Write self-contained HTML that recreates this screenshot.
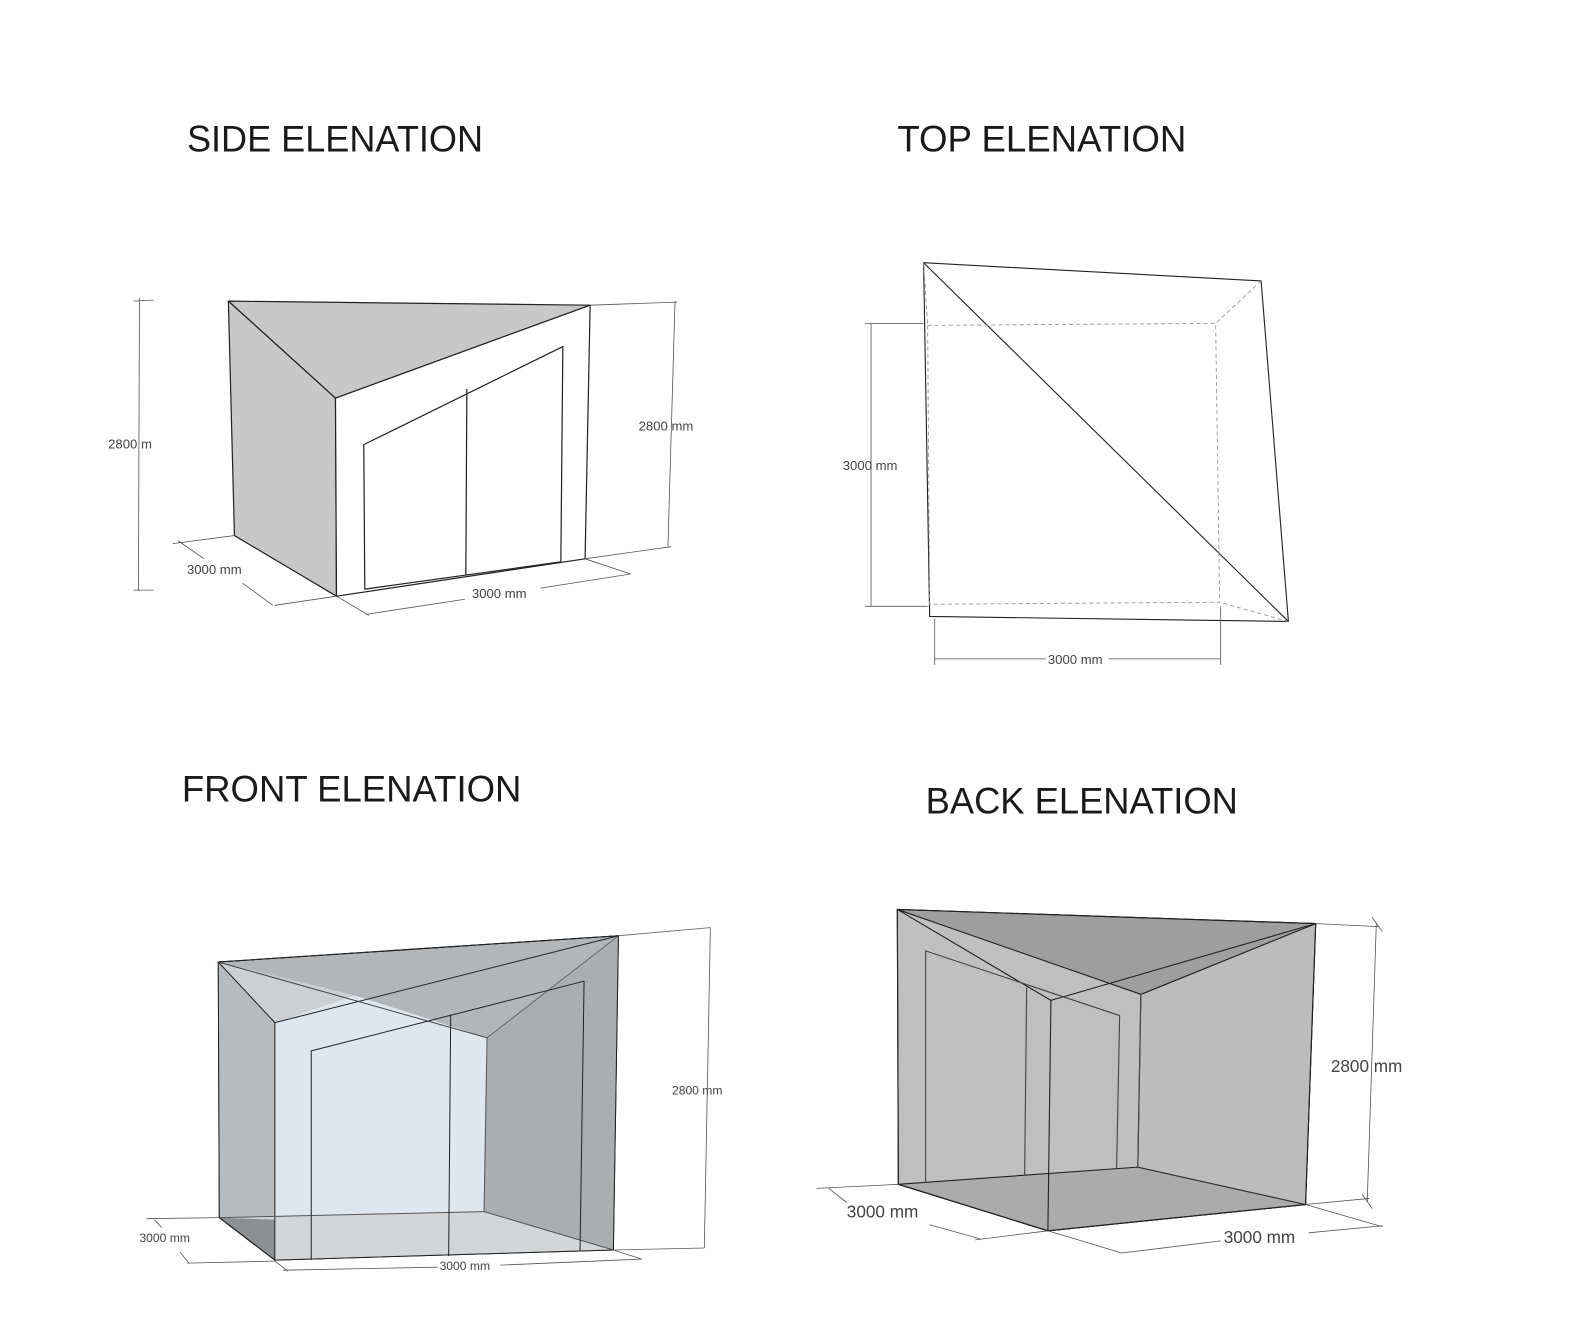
<!DOCTYPE html>
<html><head><meta charset="utf-8"><style>html,body{margin:0;padding:0;background:#fff}svg{display:block}</style></head>
<body>
<svg width="1583" height="1329" viewBox="0 0 1583 1329" xmlns="http://www.w3.org/2000/svg" font-family="Liberation Sans, sans-serif">
<g transform="scale(1.0105)">
<g font-size="37" fill="#1a1a1a">
<text x="185" y="150" textLength="293" lengthAdjust="spacingAndGlyphs">SIDE ELENATION</text>
<text x="888" y="150" textLength="286" lengthAdjust="spacingAndGlyphs">TOP ELENATION</text>
<text x="180" y="793" textLength="336" lengthAdjust="spacingAndGlyphs">FRONT ELENATION</text>
<text x="916" y="805" textLength="309" lengthAdjust="spacingAndGlyphs">BACK ELENATION</text>
</g>

<!-- SIDE -->
<g stroke="#222" stroke-width="1.2" stroke-linejoin="round">
<polygon points="226,298 584,302 332,394" fill="#c8c8c8"/>
<polygon points="226,298 332,394 333,590 232,530" fill="#c8c8c8"/>
<polygon points="332,394 584,302 579,553 333,590" fill="#fff"/>
<polygon points="360,440 557,343 555,556 361,583" fill="#fff"/>
<line x1="462" y1="385" x2="461" y2="569"/>
</g>
<g stroke="#555" stroke-width="0.8" fill="none">
<line x1="138" y1="295" x2="137" y2="585"/><line x1="132" y1="298" x2="152" y2="297"/><line x1="132" y1="584" x2="152" y2="584"/>
<line x1="584" y1="302" x2="670" y2="299"/><line x1="579" y1="553" x2="664" y2="541"/>
<line x1="668" y1="298" x2="661" y2="541"/>
<line x1="232" y1="530" x2="171" y2="538"/><line x1="333" y1="590" x2="272" y2="599"/>
<line x1="176" y1="535" x2="202" y2="553"/><line x1="240" y1="577" x2="270" y2="599"/>
<line x1="333" y1="590" x2="365" y2="609"/><line x1="579" y1="553" x2="624" y2="568"/>
<line x1="362" y1="608" x2="460" y2="593"/><line x1="535" y1="582" x2="624" y2="568"/>
</g>
<g font-size="13" fill="#444">
<text x="107" y="444">2800 m</text>
<text x="632" y="426">2800 mm</text>
<text x="185" y="568">3000 mm</text>
<text x="467" y="592">3000 mm</text>
</g>

<!-- TOP -->
<g stroke="#222" stroke-width="1.1" fill="none">
<polygon points="914,260 1248,278 1275,615 920,610"/>
<line x1="914" y1="260" x2="1275" y2="615"/>
</g>
<g stroke="#999" stroke-width="0.9" fill="none" stroke-dasharray="4,3">
<polygon points="918,322 1203,320 1207,596 920,598"/>
<line x1="1248" y1="278" x2="1203" y2="320"/>
<line x1="1275" y1="615" x2="1207" y2="596"/>
<line x1="914" y1="260" x2="918" y2="322"/>
</g>
<g stroke="#555" stroke-width="0.8" fill="none">
<line x1="862" y1="320" x2="862" y2="600"/><line x1="856" y1="320" x2="914" y2="320"/><line x1="856" y1="600" x2="918" y2="600"/>
<line x1="925" y1="612" x2="925" y2="658"/><line x1="1208" y1="600" x2="1208" y2="658"/>
<line x1="925" y1="652" x2="1035" y2="652"/><line x1="1097" y1="652" x2="1208" y2="652"/>
</g>
<g font-size="13" fill="#444">
<text x="834" y="465">3000 mm</text>
<text x="1037" y="657">3000 mm</text>
</g>

<!-- FRONT -->
<g stroke="#222" stroke-width="1" stroke-linejoin="round">
<polygon points="216,952 612,926 607,1237 272,1247 217,1205" fill="#b3b6b9"/>
<polygon points="216,952 272,1012 272,1247 217,1205" fill="#b8bbbe" stroke="none"/>
<polygon points="272,1012 351,985 482,1027 479,1199 272,1207" fill="#dfe6ec" stroke="none"/>
<polygon points="216,952 351,985 272,1012" fill="#ccd0d3" stroke="none"/>
<polygon points="217,1205 479,1199 607,1237 272,1247" fill="#d3d6d8" stroke="none"/>
<polygon points="217,1205 272,1207 272,1247" fill="#8d9093" stroke="none"/>
<polygon points="482,1027 612,926 607,1237 479,1199" fill="#aaaeb1" stroke="none"/>
<polygon points="216,952 612,926 272,1012 216,952" fill="none"/>
<line x1="216" y1="952" x2="482" y2="1027" stroke="#444"/>
<line x1="482" y1="1027" x2="612" y2="926" stroke="#666"/>
<line x1="272" y1="1012" x2="272" y2="1247"/>
<line x1="482" y1="1027" x2="479" y2="1199" stroke="#555"/>
<line x1="217" y1="1205" x2="479" y2="1199" stroke="#555"/>
<line x1="479" y1="1199" x2="607" y2="1237" stroke="#555"/>
<line x1="217" y1="1205" x2="272" y2="1247"/>
<polygon points="216,952 612,926 607,1237 272,1247 217,1205" fill="none"/>
<polyline points="308,1247 308,1040 578,971 574,1238" fill="none"/>
<line x1="446" y1="1004" x2="444" y2="1243"/>
</g>
<g stroke="#555" stroke-width="0.8" fill="none">
<line x1="612" y1="926" x2="703" y2="918"/><line x1="607" y1="1237" x2="697" y2="1235"/>
<line x1="703" y1="918" x2="697" y2="1235"/>
<line x1="145" y1="1206" x2="217" y2="1205"/><line x1="185" y1="1250" x2="272" y2="1248"/>
<line x1="153" y1="1207" x2="160" y2="1215"/><line x1="178" y1="1239" x2="187" y2="1250"/>
<line x1="272" y1="1248" x2="285" y2="1258"/><line x1="607" y1="1237" x2="635" y2="1246"/>
<line x1="280" y1="1257" x2="433" y2="1254"/><line x1="495" y1="1252" x2="635" y2="1246"/>
</g>
<g font-size="12" fill="#444">
<text x="665" y="1083">2800 mm</text>
<text x="138" y="1229">3000 mm</text>
<text x="435" y="1257">3000 mm</text>
</g>

<!-- BACK -->
<g stroke="#222" stroke-width="1.1" stroke-linejoin="round">
<polygon points="888,900 1302,914 1292,1192 1037,1218 889,1172" fill="#bfbfbf"/>
<polygon points="889,1172 1126,1155 1292,1192 1037,1218" fill="#ababab"/>
<polygon points="1129,984 1302,914 1292,1192 1126,1155" fill="#bcbcbc" stroke="#333"/>
<polygon points="888,900 1302,914 1129,984" fill="#9e9e9e"/>
<line x1="888" y1="900" x2="1040" y2="990"/>
<line x1="1302" y1="914" x2="1040" y2="990"/>
<line x1="1040" y1="990" x2="1037" y2="1218"/>
<line x1="1129" y1="984" x2="1126" y2="1155" stroke="#444"/>
<polyline points="916,1170 916,941 1108,1005 1105,1156" fill="none" stroke="#444"/>
<line x1="1016" y1="977" x2="1014" y2="1163" stroke="#444"/>
<polygon points="888,900 1302,914 1292,1192 1037,1218 889,1172" fill="none"/>
</g>
<g stroke="#555" stroke-width="0.8" fill="none">
<line x1="1302" y1="914" x2="1365" y2="917"/><line x1="1292" y1="1192" x2="1355" y2="1186"/>
<line x1="1362" y1="914" x2="1353" y2="1190"/>
<line x1="1358" y1="908" x2="1368" y2="922"/><line x1="1348" y1="1182" x2="1358" y2="1196"/>
<line x1="808" y1="1176" x2="889" y2="1172"/><line x1="1037" y1="1218" x2="965" y2="1227"/>
<line x1="820" y1="1176" x2="838" y2="1190"/><line x1="920" y1="1212" x2="970" y2="1226"/>
<line x1="1037" y1="1218" x2="1110" y2="1240"/><line x1="1292" y1="1192" x2="1368" y2="1214"/>
<line x1="1110" y1="1240" x2="1208" y2="1228"/><line x1="1295" y1="1220" x2="1368" y2="1213"/>
</g>
<g font-size="17" fill="#444">
<text x="1317" y="1061">2800 mm</text>
<text x="838" y="1205">3000 mm</text>
<text x="1211" y="1230">3000 mm</text>
</g>
</g>
</svg>
</body></html>
